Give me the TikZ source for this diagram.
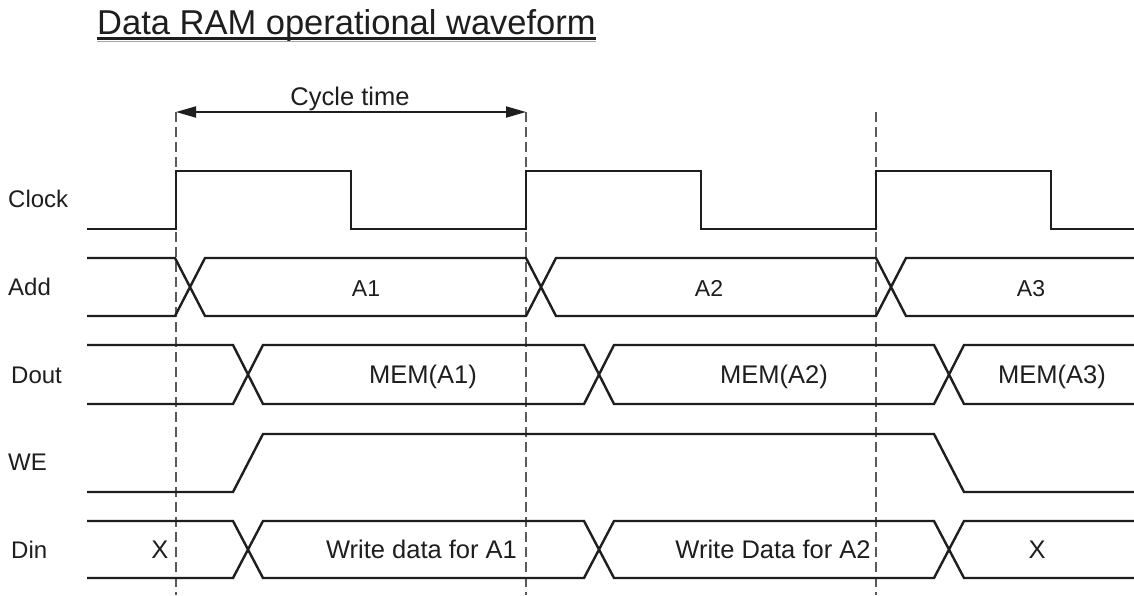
\documentclass[tikz,border=0pt]{standalone}
\usepackage{fontspec}
\setmainfont{Liberation Sans}
\usetikzlibrary{arrows.meta}
\definecolor{ink}{HTML}{1E1E1E}
\definecolor{guidegray}{HTML}{5A5A5A}
\tikzset{
  wave/.style={line width=2.4pt, draw=ink, line join=miter},
  guide/.style={line width=1.5pt, draw=guidegray, dash pattern=on 10pt off 5pt},
  dimarrow/.style={line width=1.8pt, draw=ink, {Triangle[length=20pt,width=11pt]}-{Triangle[length=20pt,width=11pt]}},
  siglabel/.style={anchor=base west, inner sep=0pt, text=ink, font=\fontsize{24}{28}\selectfont},
  addval/.style={anchor=base, inner sep=0pt, text=ink, font=\fontsize{23}{27}\selectfont},
  busval/.style={anchor=base, inner sep=0pt, text=ink, font=\fontsize{25.5}{30}\selectfont},
}
\begin{document}
\begin{tikzpicture}[x=1pt,y=-1pt]
\useasboundingbox (0,0) rectangle (1134,595);
\fill[white] (0,0) rectangle (1134,595);

% title with underline
\node[anchor=base west, inner sep=0pt, text=ink, font=\fontsize{34.5}{40}\selectfont] (title) at (97,34.5) {Data RAM operational waveform};
\draw[line width=2.2pt, draw=ink] ([yshift=-4pt]title.base west) -- ([yshift=-4pt]title.base east);
\draw[line width=1.4pt, draw=black!35] ([yshift=-6.8pt]title.base west) -- ([yshift=-6.8pt]title.base east);

% cycle boundaries
\coordinate (g1) at (176,112);
\coordinate (g2) at (526,112);
\coordinate (g3) at (876,112);
\foreach \g in {g1,g2,g3}
  \draw[guide] (\g) -- ++(0,483);

% cycle time dimension
\draw[dimarrow] (g1) -- (g2);
\node[anchor=base, inner sep=0pt, text=ink, font=\fontsize{25.5}{30}\selectfont] (cyc) at (350,105) {Cycle time};

% signal names
\node[siglabel] (lclk)  at (8,207.5) {Clock};
\node[siglabel] (ladd)  at (8,295)   {Add};
\node[siglabel] (ldout) at (11,383)  {Dout};
\node[siglabel] (lwe)   at (8,470)   {WE};
\node[siglabel] (ldin)  at (11,558)  {Din};

% Clock
\draw[wave] (87,229) -- (176,229) -- (176,171) -- (351,171) -- (351,229)
  -- (526,229) -- (526,171) -- (701,171) -- (701,229)
  -- (876,229) -- (876,171) -- (1051,171) -- (1051,229) -- (1134,229);

% Add bus
\draw[wave] (87,258) -- (175,258) -- (205,316) -- (526,316) -- (556,258)
  -- (876,258) -- (906,316) -- (1134,316);
\draw[wave] (87,316) -- (175,316) -- (205,258) -- (526,258) -- (556,316)
  -- (876,316) -- (906,258) -- (1134,258);
\node[addval] (a1) at (366,296.5) {A1};
\node[addval] (a2) at (709,296.5) {A2};
\node[addval] (a3) at (1031,296.5) {A3};

% Dout bus
\draw[wave] (87,345) -- (233,345) -- (263,404) -- (584,404) -- (614,345)
  -- (934,345) -- (964,404) -- (1134,404);
\draw[wave] (87,404) -- (233,404) -- (263,345) -- (584,345) -- (614,404)
  -- (934,404) -- (964,345) -- (1134,345);
\node[busval] (m1) at (423,383.3) {MEM(A1)};
\node[busval] (m2) at (774,383.3) {MEM(A2)};
\node[busval] (m3) at (1052,383.3) {MEM(A3)};

% WE
\draw[wave] (87,492) -- (233,492) -- (263,434) -- (934,434) -- (964,492) -- (1134,492);

% Din bus
\draw[wave] (87,521) -- (233,521) -- (263,578) -- (584,578) -- (614,521)
  -- (934,521) -- (964,578) -- (1134,578);
\draw[wave] (87,578) -- (233,578) -- (263,521) -- (584,521) -- (614,578)
  -- (934,578) -- (964,521) -- (1134,521);
\node[busval] (d0) at (160,558) {X};
\node[busval] (d1) at (421.5,558.3) {Write data for A1};
\node[busval] (d2) at (773,558.3) {Write Data for A2};
\node[busval] (d3) at (1037,558.3) {X};
\end{tikzpicture}
\end{document}
